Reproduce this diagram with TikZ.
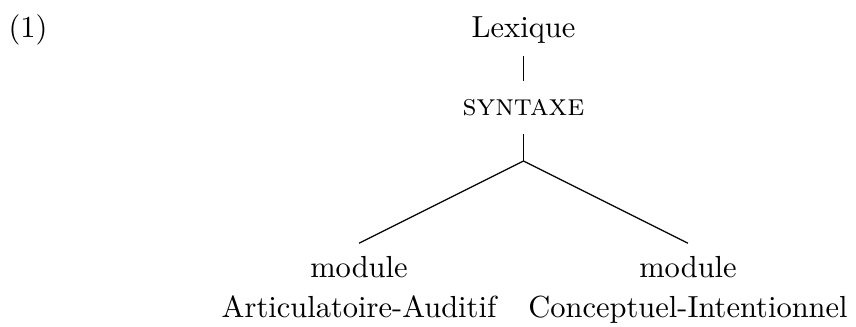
\documentclass[tikz,border=0pt]{standalone}
\usepackage{amsmath}
\usepackage{tikz}
\tikzset{
	Label/.style={inner sep=3pt, text height=8pt, text depth=3pt, anchor=base},
	Leaf/.style={inner sep=4pt, align=center, anchor=north},
	Branch/.style={line width=0.4pt}
}

\begin{document}
\begin{tikzpicture}[x=0.328pt, y=-0.328pt]
	\useasboundingbox (0,0) rectangle (856,326);
	\node[inner sep=0pt, anchor=base west] (ex) at (8,37.5) {(1)};
	\node[Label] (lex) at (523.5,37.5) {Lexique};
	\node[Label] (syn) at (523.5,115) {\textsc{syntaxe}};
	\coordinate (split) at (523.5,161);
	\node[Leaf] (aa) at (359,243.2) {module\\[1.1pt]Articulatoire-Auditif};
	\node[Leaf] (ci) at (688,243.2) {module\\[1.1pt]Conceptuel-Intentionnel};
	\draw[Branch] (lex.south) -- (syn.north);
	\draw[Branch] (syn.south) -- (split);
	\draw[Branch] (split) -- (aa.north);
	\draw[Branch] (split) -- (ci.north);
\end{tikzpicture}
\end{document}
